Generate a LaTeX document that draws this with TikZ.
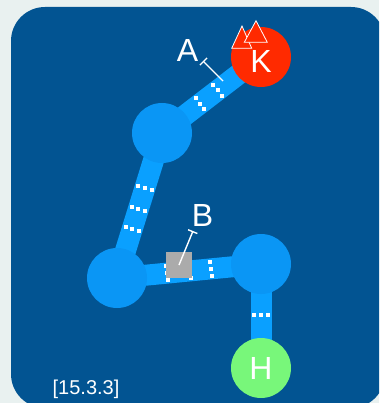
\documentclass[tikz,border=0pt]{standalone}
\usepackage{fontspec}
\setmainfont{Liberation Sans}
\usetikzlibrary{calc,backgrounds,arrows.meta}

\definecolor{pagegray}{HTML}{E9F1F0}
\definecolor{panelblue}{HTML}{025492}
\definecolor{bondblue}{HTML}{0AA0FF}
\definecolor{atomblue}{HTML}{0A96F5}
\definecolor{kred}{HTML}{FF2A00}
\definecolor{hgreen}{HTML}{78F77A}
\definecolor{boxgray}{HTML}{ABABAB}

\tikzset{
  atom/.style={circle, minimum size=60pt, inner sep=0pt, fill=atomblue,
    text=white, font=\fontsize{32}{32}\selectfont},
  bond/.style={bondblue, line width=21pt},
  leader/.style={white, line width=1.4pt, {Bar[width=10pt]}-},
  lbl/.style={text=white, inner sep=0pt, font=\fontsize{32}{32}\selectfont},
}

\newcommand{\dotrow}[3]{%
  \path ($(#1.center)!#3!(#2.center)$) coordinate (dr);
  \foreach \s in {-7pt,0pt,7pt}
    \fill[white] ($(dr)!\s!90:(#2.center)$) +(-2,-2) rectangle +(2,2);
}

\begin{document}
\begin{tikzpicture}[x=1pt, y=-1pt]

  \useasboundingbox (0,0) rectangle (379,403);

  % Atoms
  \node[atom, fill=kred, label={[lbl, yshift=-4pt]center:K}] (kk) at (261,57) {};
  \node[atom] (top)   at (162,133) {};
  \node[atom] (left)  at (117,278) {};
  \node[atom] (right) at (261,264) {};
  \node[atom, fill=hgreen] (hh) at (261,368) {H};

  \begin{pgfonlayer}{background}
    \fill[pagegray] (0,0) rectangle (379,403);
    \begin{scope}
      \clip (0,0) rectangle (379,403);
      \fill[panelblue, rounded corners=34pt] (11,7) rectangle (385,408);
    \end{scope}
    \draw[bond] (top.center)   -- (kk.center);
    \draw[bond] (top.center)   -- (left.center);
    \draw[bond] (left.center)  -- (right.center);
    \draw[bond] (right.center) -- (hh.center);
  \end{pgfonlayer}

  % Dots on the bonds
  \dotrow{top}{kk}{0.385}
  \dotrow{top}{kk}{0.562}
  \dotrow{top}{left}{0.377}
  \dotrow{top}{left}{0.523}
  \dotrow{top}{left}{0.662}
  \dotrow{left}{right}{0.347}
  \dotrow{left}{right}{0.507}
  \dotrow{left}{right}{0.653}
  \dotrow{right}{hh}{0.49}

  \node[fill=boxgray, minimum size=26pt, inner sep=0pt] (sqb) at (179,265) {};

  % Triangles on K
  \filldraw[fill=kred, draw=white, line width=0.8pt]
    (242,26) -- (251.7,48.3) -- (231.7,48.3) -- cycle;
  \filldraw[fill=kred, draw=white, line width=0.8pt]
    (256,20.7) -- (267.3,42.3) -- (244.3,42.3) -- cycle;

  % Labels
  \node[lbl] (labA) at (187.5,50) {A};
  \coordinate (barA) at (203,61);
  \coordinate (tipA) at (223,81);
  \draw[leader] (barA) -- (tipA);

  \node[lbl] (labB) at (202.5,215) {B};
  \coordinate (barB) at (193,231);
  \draw[leader] (barB) -- (sqb.center);

  \node[text=white, inner sep=0pt, font=\fontsize{20}{20}\selectfont]
    (tag) at (86,389) {[15.3.3]};

\end{tikzpicture}
\end{document}
